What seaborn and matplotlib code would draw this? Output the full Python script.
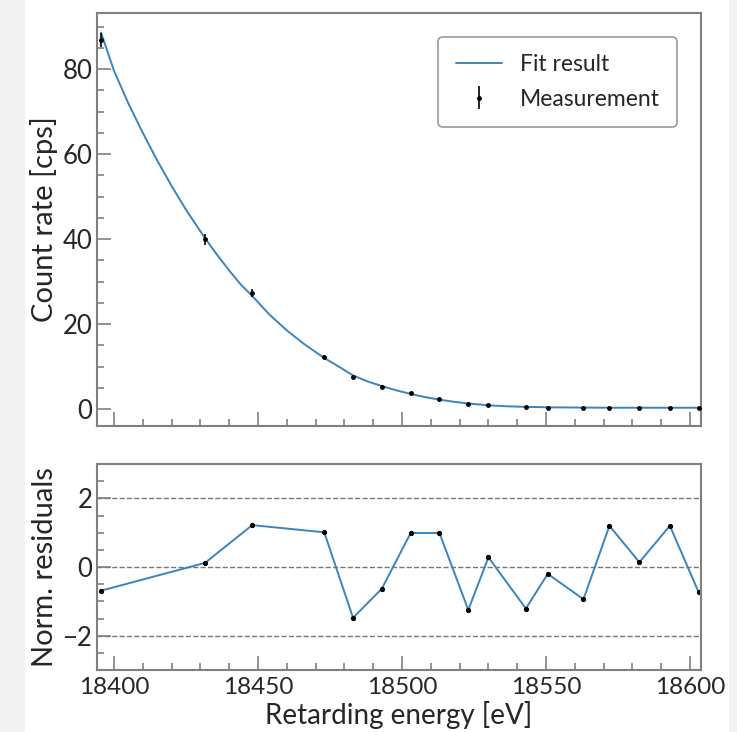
#!/usr/bin/env python3
"""Fit result and normalised residuals vs retarding energy."""
import pandas as pd
import matplotlib
matplotlib.use('Agg')
import matplotlib.pyplot as plt
from matplotlib.patches import Rectangle
from matplotlib.ticker import MultipleLocator
import seaborn as sns

# measurement points
energy = [18395.5, 18431.6, 18448.0, 18473.0, 18483.0, 18493.0, 18503.0, 18513.0,
          18523.0, 18530.0, 18543.0, 18550.6, 18563.0, 18572.0, 18582.4, 18593.0, 18603.0]
rate = [86.8, 40.0, 27.3, 12.3, 7.5, 5.25, 3.76, 2.35,
        1.18, 0.87, 0.40, 0.35, 0.30, 0.32, 0.30, 0.32, 0.28]
rate_err = [1.6, 1.3, 1.0, 0.5, 0.35, 0.3, 0.2, 0.15,
            0.12, 0.1, 0.06, 0.06, 0.05, 0.05, 0.05, 0.05, 0.05]
residual = [-0.69, 0.12, 1.22, 1.01, -1.48, -0.63, 0.99, 0.99,
            -1.25, 0.28, -1.21, -0.20, -0.94, 1.20, 0.14, 1.20, -0.74]

# fit curve
fit_energy = [18395.5, 18400, 18405, 18410, 18415, 18420, 18425, 18431.6, 18436, 18440,
              18444, 18448, 18454, 18460, 18466, 18473, 18478, 18483, 18488, 18493,
              18498, 18503, 18508, 18513, 18518, 18523, 18530, 18536, 18543, 18551,
              18563, 18573, 18583, 18593, 18603]
fit_rate = [88.6, 79.6, 71.9, 65.0, 58.5, 52.5, 46.9, 40.2, 36.1, 32.6,
            29.3, 26.6, 22.2, 18.5, 15.3, 12.0, 10.0, 7.9, 6.5, 5.4,
            4.4, 3.55, 2.8, 2.2, 1.7, 1.3, 0.87, 0.65, 0.5, 0.4,
            0.33, 0.3, 0.3, 0.3, 0.3]

df = pd.DataFrame({'energy': energy, 'rate': rate, 'err': rate_err, 'residual': residual})
fit = pd.DataFrame({'energy': fit_energy, 'rate': fit_rate})

sns.set_style('white')
plt.rcParams['font.family'] = ['Lato', 'DejaVu Sans']

BLUE = '#3b84bd'
GRAY = '#808080'

fig = plt.figure(figsize=(7.37, 7.32), dpi=100)
fig.patches.append(Rectangle((0, 0), 25 / 737, 1, transform=fig.transFigure,
                             facecolor='#f2f2f2', edgecolor='none', zorder=-10))
fig.patches.append(Rectangle((729 / 737, 0), 8 / 737, 1, transform=fig.transFigure,
                             facecolor='#f2f2f2', edgecolor='none', zorder=-10))

ax1 = fig.add_axes([97 / 737, 1 - 426 / 732, 604 / 737, 413 / 732])
ax2 = fig.add_axes([97 / 737, 1 - 670 / 732, 604 / 737, 206 / 732], sharex=ax1)

sns.lineplot(data=fit, x='energy', y='rate', ax=ax1, color=BLUE, lw=1.4,
             label='Fit result', sort=False)
ax1.errorbar(df['energy'], df['rate'], yerr=df['err'], fmt='o', ms=2.5, color='black',
             elinewidth=1.2, capsize=0, label='Measurement', zorder=3)

sns.lineplot(data=df, x='energy', y='residual', ax=ax2, color=BLUE, lw=1.4,
             marker='o', markersize=3, markerfacecolor='black', markeredgecolor='black',
             sort=False)
for yv in (-2, 0, 2):
    ax2.axhline(yv, color='#777777', ls='--', lw=1.0, zorder=0)

ax1.set_xlim(18394.1, 18603.8)
ax1.set_ylim(-4, 93.2)
ax2.set_ylim(-3, 3)

ax1.xaxis.set_major_locator(MultipleLocator(50))
ax1.xaxis.set_minor_locator(MultipleLocator(10))
ax1.yaxis.set_major_locator(MultipleLocator(20))
ax1.yaxis.set_minor_locator(MultipleLocator(5))
ax2.yaxis.set_major_locator(MultipleLocator(2))
ax2.yaxis.set_minor_locator(MultipleLocator(0.5))

for ax in (ax1, ax2):
    for s in ax.spines.values():
        s.set_color(GRAY)
        s.set_linewidth(1.5)
    ax.tick_params(which='both', direction='in', color=GRAY, width=1.2,
                   labelsize=17.5, bottom=True, left=True, top=False, right=False)
    ax.tick_params(which='major', length=10)
    ax.tick_params(which='minor', length=5)
    ax.tick_params(axis='y', which='major', labelsize=18.5, pad=3.5)
    ax.tick_params(axis='x', which='major', pad=5)

ax1.tick_params(labelbottom=False)
ax1.set_xlabel('')
ax1.set_ylabel('Count rate [cps]', fontsize=21)
ax2.set_xlabel('Retarding energy [eV]', fontsize=20, labelpad=2)
ax2.set_ylabel('Norm. residuals', fontsize=21)
ax1.yaxis.set_label_coords(-0.064, 0.5)
ax2.yaxis.set_label_coords(-0.064, 0.5)

leg = ax1.legend(loc='upper right', fontsize=16.5, frameon=True, fancybox=True,
                 borderpad=0.75, labelspacing=0.6, handlelength=2.0,
                 borderaxespad=0, bbox_to_anchor=(0.9603, 0.942))
leg.get_frame().set_edgecolor(GRAY)
leg.get_frame().set_linewidth(1.2)

fig.savefig('out.png', dpi=100)
